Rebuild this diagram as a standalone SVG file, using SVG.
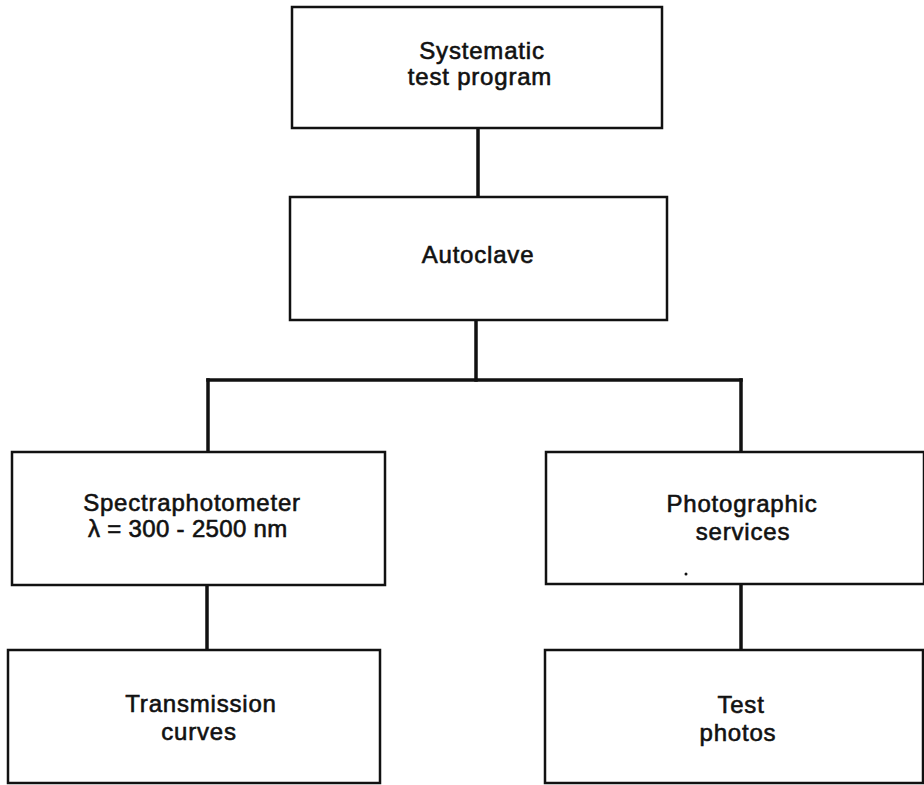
<svg xmlns="http://www.w3.org/2000/svg" width="924" height="785" viewBox="0 0 924 785">
<style>
.box{fill:#fff;stroke:#111;stroke-width:2.5}
.conn{stroke:#111;stroke-width:3.5;fill:none;stroke-linecap:square}
text{font-family:"Liberation Sans",Arial,sans-serif;font-size:24px;fill:#111;text-anchor:middle;letter-spacing:0.8px;stroke:#111;stroke-width:0.6}
</style>
<rect width="924" height="785" fill="#fff"/>
<g id="connectors">
<line class="conn" x1="478" y1="129" x2="478" y2="197"/>
<line class="conn" x1="476" y1="320" x2="476" y2="380"/>
<line class="conn" x1="208" y1="380" x2="741" y2="380"/>
<line class="conn" x1="208" y1="380" x2="208" y2="452"/>
<line class="conn" x1="741" y1="380" x2="741" y2="452"/>
<line class="conn" x1="207" y1="585" x2="207" y2="650"/>
<line class="conn" x1="741" y1="584" x2="741" y2="650"/>
</g>
<g id="n1">
<rect class="box" x="292" y="7" width="370" height="121"/>
<text x="482" y="59">Systematic</text>
<text x="480" y="85">test program</text>
</g>
<g id="n2">
<rect class="box" x="290" y="197" width="377" height="123"/>
<text x="478" y="263">Autoclave</text>
</g>
<g id="n3">
<rect class="box" x="12" y="452" width="373" height="133"/>
<text x="192" y="511">Spectraphotometer</text>
<text x="188" y="537" textLength="200" lengthAdjust="spacing">λ = 300 - 2500 nm</text>
</g>
<g id="n4">
<rect class="box" x="8" y="650" width="372" height="133"/>
<text x="201" y="712">Transmission</text>
<text x="199" y="740">curves</text>
</g>
<g id="n5">
<rect class="box" x="546" y="452" width="378" height="132"/>
<text x="742" y="512">Photographic</text>
<text x="743" y="540">services</text>
<circle cx="686" cy="574" r="1.5" fill="#111"/>
</g>
<g id="n6">
<rect class="box" x="545" y="650" width="378" height="133"/>
<text x="741" y="713">Test</text>
<text x="738" y="741">photos</text>
</g>
</svg>
